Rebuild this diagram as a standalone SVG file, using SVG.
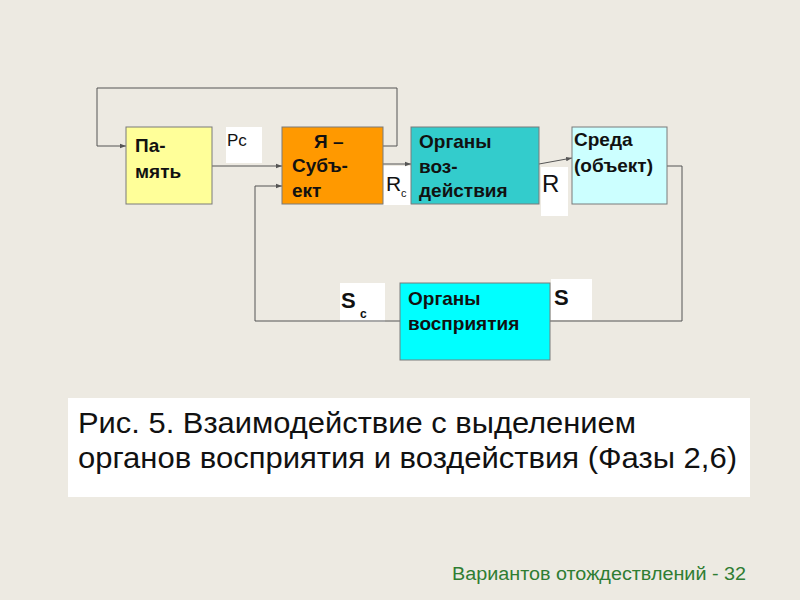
<svg xmlns="http://www.w3.org/2000/svg" width="800" height="600" viewBox="0 0 800 600">
<style>
.box{stroke:#7a7a7a;stroke-width:1}
.bt{font-family:"Liberation Sans",Arial,sans-serif;font-weight:bold;font-size:19px;fill:#111}
.lbl{fill:#ffffff}
.lt{font-family:"Liberation Sans",Arial,sans-serif;fill:#111}
.ln{fill:none;stroke:#555;stroke-width:1}
</style>
<defs>
<marker id="ar" viewBox="0 0 8 8" refX="8" refY="4" markerWidth="6" markerHeight="6" orient="auto" markerUnits="userSpaceOnUse">
<path d="M0,1 L8,4 L0,7 z" fill="#555"/>
</marker>
</defs>
<rect width="800" height="600" fill="#EDEAE2"/>

<g id="label-pc"><rect class="lbl" x="226" y="127" width="36" height="36"/><text class="lt" x="227" y="146" font-size="17">Pc</text></g>
<g id="label-rc"><rect class="lbl" x="383" y="166" width="28" height="39"/><text class="lt" x="386" y="191" font-size="21">R</text><text class="lt" x="401" y="197" font-size="11">c</text></g>
<g id="label-r"><rect class="lbl" x="541" y="167" width="27" height="49"/><text class="lt" x="542" y="192" font-size="24">R</text></g>
<g id="label-sc"><rect class="lbl" x="340" y="283" width="45" height="39"/><text class="lt" x="341" y="308" font-size="22" font-weight="bold">S</text><text class="lt" x="360" y="318" font-size="12" font-weight="bold">c</text></g>
<g id="label-s"><rect class="lbl" x="551" y="279" width="41" height="41"/><text class="lt" x="554" y="305" font-size="22" font-weight="bold">S</text></g>

<g id="connectors">
<path class="ln" d="M383,146 H397 V88 H97 V146 H126" marker-end="url(#ar)"/>
<path class="ln" d="M212,166 H282" marker-end="url(#ar)"/>
<path class="ln" d="M383,164 H411" marker-end="url(#ar)"/>
<path class="ln" d="M539,164 L572,158" marker-end="url(#ar)"/>
<path class="ln" d="M667,166 H682 V321 H544" marker-end="url(#ar)"/>
<path class="ln" d="M400,321 H255 V186 H282" marker-end="url(#ar)"/>
</g>

<g id="pamyat">
<rect class="box" x="126" y="127" width="86" height="77" fill="#FFFF99"/>
<text class="bt" x="135" y="152">Па-</text>
<text class="bt" x="135" y="178">мять</text>
</g>
<g id="subject">
<rect class="box" x="282" y="127" width="101" height="77" fill="#FF9900"/>
<text class="bt" x="314" y="148">Я –</text>
<text class="bt" x="292" y="172">Субъ-</text>
<text class="bt" x="292" y="197">ект</text>
</g>
<g id="organy-vozd">
<rect class="box" x="411" y="127" width="128" height="77" fill="#33CCCC"/>
<text class="bt" x="419" y="148">Органы</text>
<text class="bt" x="419" y="173">воз-</text>
<text class="bt" x="419" y="197">действия</text>
</g>
<g id="sreda">
<rect class="box" x="572" y="127" width="95" height="77" fill="#CCFFFF"/>
<text class="bt" x="574" y="146" font-size="18">Среда</text>
<text class="bt" x="574" y="172" font-size="18">(объект)</text>
</g>
<g id="organy-vospr">
<rect class="box" x="400" y="283" width="150" height="77" fill="#00FFFF"/>
<text class="bt" x="408" y="305">Органы</text>
<text class="bt" x="408" y="330">восприятия</text>
</g>

<g id="caption">
<rect x="68" y="398" width="682" height="99" fill="#ffffff"/>
<text class="lt" x="78" y="433" font-size="29" textLength="558" lengthAdjust="spacingAndGlyphs">Рис. 5. Взаимодействие с выделением</text>
<text class="lt" x="78" y="468" font-size="29" textLength="659" lengthAdjust="spacingAndGlyphs">органов восприятия и воздействия (Фазы 2,6)</text>
</g>
<text x="452" y="580" font-family="Liberation Sans,Arial,sans-serif" font-size="18" fill="#2F7D32" textLength="294" lengthAdjust="spacingAndGlyphs">Вариантов отождествлений - 32</text>
</svg>
